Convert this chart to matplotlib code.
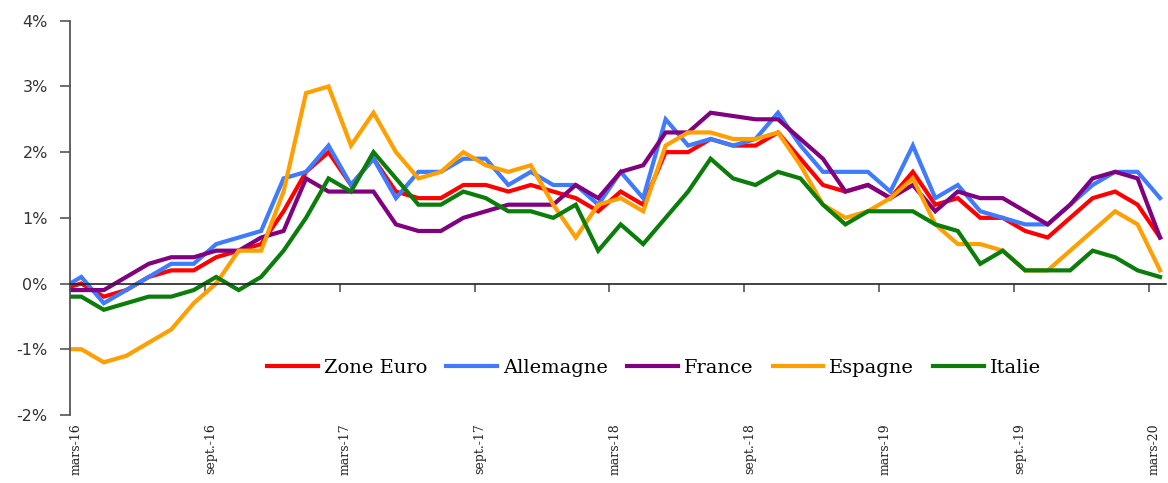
import matplotlib
matplotlib.use("Agg")
import matplotlib.pyplot as plt
import numpy as np

# inflation (glissement annuel, %), fev-16 .. mars-20
zone_euro = [-0.1, 0.0, -0.2, -0.1, 0.1, 0.2, 0.2, 0.4, 0.5, 0.6, 1.1, 1.7, 2.0, 1.5, 1.9,
             1.4, 1.3, 1.3, 1.5, 1.5, 1.4, 1.5, 1.4, 1.3, 1.1, 1.4, 1.2, 2.0, 2.0, 2.2, 2.1,
             2.1, 2.3, 1.9, 1.5, 1.4, 1.5, 1.3, 1.7, 1.2, 1.3, 1.0, 1.0, 0.8, 0.7, 1.0, 1.3,
             1.4, 1.2, 0.7]
allemagne = [-0.1, 0.1, -0.3, -0.1, 0.1, 0.3, 0.3, 0.6, 0.7, 0.8, 1.6, 1.7, 2.1, 1.5, 1.9,
             1.3, 1.7, 1.7, 1.9, 1.9, 1.5, 1.7, 1.5, 1.5, 1.2, 1.7, 1.3, 2.5, 2.1, 2.2, 2.1,
             2.2, 2.6, 2.1, 1.7, 1.7, 1.7, 1.4, 2.1, 1.3, 1.5, 1.1, 1.0, 0.9, 0.9, 1.2, 1.5,
             1.7, 1.7, 1.3]
france = [-0.1, -0.1, -0.1, 0.1, 0.3, 0.4, 0.4, 0.5, 0.5, 0.7, 0.8, 1.6, 1.4, 1.4, 1.4,
          0.9, 0.8, 0.8, 1.0, 1.1, 1.2, 1.2, 1.2, 1.5, 1.3, 1.7, 1.8, 2.3, 2.3, 2.6, 2.55,
          2.5, 2.5, 2.2, 1.9, 1.4, 1.5, 1.3, 1.5, 1.1, 1.4, 1.3, 1.3, 1.1, 0.9, 1.2, 1.6,
          1.7, 1.6, 0.7]
espagne = [-1.0, -1.0, -1.2, -1.1, -0.9, -0.7, -0.3, 0.0, 0.5, 0.5, 1.4, 2.9, 3.0, 2.1, 2.6,
           2.0, 1.6, 1.7, 2.0, 1.8, 1.7, 1.8, 1.2, 0.7, 1.2, 1.3, 1.1, 2.1, 2.3, 2.3, 2.2,
           2.2, 2.3, 1.8, 1.2, 1.0, 1.1, 1.3, 1.6, 0.9, 0.6, 0.6, 0.5, 0.2, 0.2, 0.5, 0.8,
           1.1, 0.9, 0.2]
italie = [-0.2, -0.2, -0.4, -0.3, -0.2, -0.2, -0.1, 0.1, -0.1, 0.1, 0.5, 1.0, 1.6, 1.4, 2.0,
          1.6, 1.2, 1.2, 1.4, 1.3, 1.1, 1.1, 1.0, 1.2, 0.5, 0.9, 0.6, 1.0, 1.4, 1.9, 1.6,
          1.5, 1.7, 1.6, 1.2, 0.9, 1.1, 1.1, 1.1, 0.9, 0.8, 0.3, 0.5, 0.2, 0.2, 0.2, 0.5,
          0.4, 0.2, 0.1]

series = ["Zone Euro", "Allemagne", "France", "Espagne", "Italie"]
colors = ["#ff0000", "#3f7bff", "#800080", "#ffa000", "#0b7d0b"]
tick_labels = ["mars-16", "sept.-16", "mars-17", "sept.-17", "mars-18",
               "sept.-18", "mars-19", "sept.-19", "mars-20"]

# month index: 0 = mars-16, first value is fev-16
x = np.arange(len(zone_euro)) - 1

fig = plt.figure(figsize=(11.68, 4.83), dpi=100)
ax = fig.add_axes([0.06, 0.141, 0.938, 0.816])

for name, vals, col in zip(series, [zone_euro, allemagne, france, espagne, italie], colors):
    ax.plot(x, vals, color=col, lw=3, label=name, solid_joinstyle="miter")

ax.set_xlim(-0.5, 48.25)
ax.set_ylim(-2, 4)
ax.set_yticks(range(-2, 5))
ax.set_yticklabels([f"{v}%" for v in range(-2, 5)], fontsize=11.5, color="#333333")
ax.tick_params(axis="y", direction="out", length=7, width=1.2, color="#555555", pad=9)

# x axis line crossing at 0 with ticks between months
ax.spines["top"].set_visible(False)
ax.spines["right"].set_visible(False)
ax.spines["left"].set_color("#555555")
ax.spines["left"].set_linewidth(1.3)
ax.spines["bottom"].set_position(("data", 0))
ax.spines["bottom"].set_color("#222222")
ax.spines["bottom"].set_linewidth(1.2)
ax.set_xticks(np.arange(-0.5, 48, 6))
ax.tick_params(axis="x", direction="out", length=6, width=1.2, color="#555555",
               labelbottom=False)

# month labels at the bottom of the plot
sec = ax.secondary_xaxis("bottom")
sec.spines["bottom"].set_visible(False)
sec.set_xticks(np.arange(-0.5, 48, 6) + 0.25)
sec.set_xticklabels(tick_labels, rotation=90, fontsize=9, family="DejaVu Serif",
                    color="#222222")
sec.tick_params(axis="x", length=0, pad=6)

leg = ax.legend(loc="center", bbox_to_anchor=(0.533, 0.12), ncol=5, frameon=False,
                handlelength=2.6, handletextpad=0.3, columnspacing=1.0,
                prop={"family": "DejaVu Serif", "size": 14})

fig.savefig("out.png", dpi=100)
